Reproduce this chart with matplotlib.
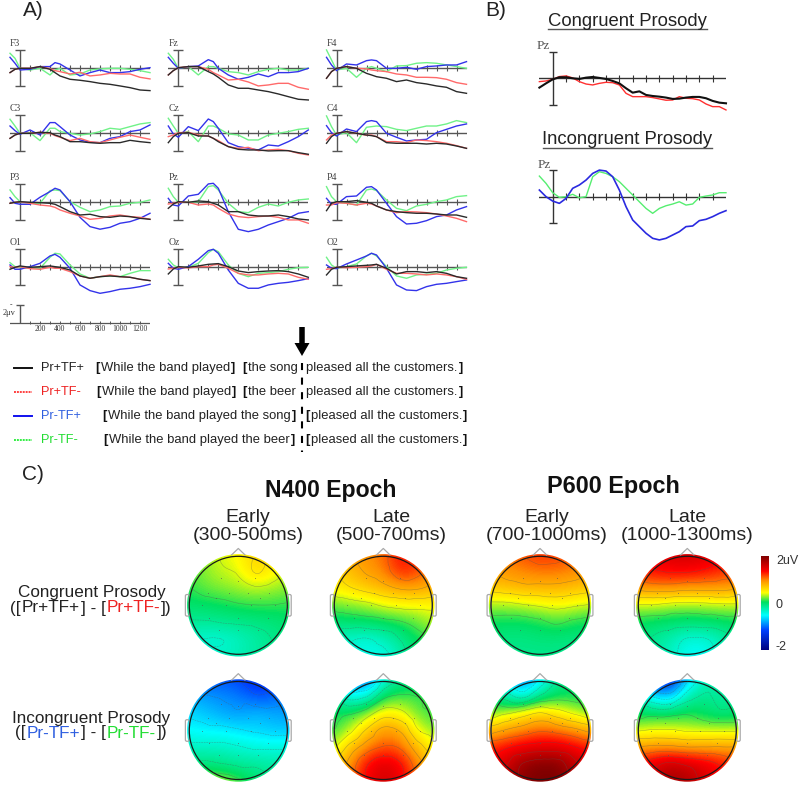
import matplotlib
matplotlib.use('Agg')
import matplotlib.pyplot as plt
import matplotlib.tri as mtri
from matplotlib.colors import LinearSegmentedColormap
from matplotlib.patches import Circle, FancyBboxPatch
import numpy as np

# ERP values in microvolts, negative is up in the plots
times = [-100, -50, 0, 100, 200, 300, 350, 400, 500, 600, 700, 800, 900, 1000, 1100, 1200, 1300]
times_pz = list(range(-100, 1301, 50))

F3 = [[.48,.11,0,0,-.19,.11,.48,.85,1.22,1.33,1.48,1.67,1.78,1.96,2.15,2.41,2.48],
      [.48,.11,0,0,-.19,.04,.26,.37,.63,.44,.85,.74,.56,.63,.63,1.0,1.18],
      [-1.22,-.56,.19,.11,-.19,-.19,-.63,-.48,.19,.85,.48,.19,.48,.48,.37,.11,-.07],
      [-1.67,-1.11,0,.19,0,.74,.19,0,.74,.63,.19,.07,0,0,.11,.26,.48]]
Fz = [[.74,.26,-.07,-.19,-.19,.37,.63,1.0,1.85,2.22,2.22,2.41,2.59,2.85,3.15,3.44,3.52],
      [.74,.26,-.07,-.19,-.19,.11,.48,.74,1.30,1.22,1.52,1.96,1.85,1.67,1.67,2.11,2.33],
      [-1.22,-.56,0,-.19,-.26,-.96,-.74,0,.74,1.22,1.0,.63,.93,.48,.48,.37,0],
      [-1.67,-1.0,0,-.19,.74,-.19,-.19,0,.37,.48,.74,.37,.11,0,.19,.19,0]]
F4 = [[1.11,.37,0,-.19,0,.56,.74,.93,1.11,1.48,1.30,1.59,1.74,1.96,2.11,2.59,2.78],
      [1.11,.37,0,-.19,0,.07,.19,.26,.37,.63,.74,1.0,1.0,1.04,1.22,1.59,1.78],
      [-1.22,-.37,.26,-.48,-.37,-.85,-.93,-.85,0,0,-.11,.11,-.19,-.26,-.37,-.37,-.74],
      [-2.04,-.93,.19,0,1.0,0,-.19,0,.37,-.26,-.30,-.56,-.63,-.56,-.37,-.19,0]]
C3 = [[.56,.19,0,0,-.11,-.07,.19,.37,.93,.93,1.04,1.11,1.04,1.04,.78,.93,1.04],
      [.56,.19,0,0,-.11,0,.26,.44,.81,.56,.93,1.04,.74,.44,.19,.44,.67],
      [-.81,-.30,.11,-.37,.19,-1.19,-1.19,-.74,.19,.74,1.0,1.04,.56,.37,-.19,-.37,-.93],
      [-1.56,-.81,0,-.07,.81,-.56,-.56,-.19,0,.19,.07,-.19,-.56,-.44,-.74,-1.04,-1.19]]
Cz = [[1.04,.37,0,-.07,.30,.30,.56,.93,1.48,1.78,1.85,1.85,1.96,1.93,1.93,2.15,2.33],
      [.37,.19,-.07,-.11,.19,.30,.56,.81,1.48,1.67,1.56,1.93,1.85,1.78,1.93,2.22,2.41],
      [-.81,.07,.44,-.74,-.30,-1.59,-1.30,-.56,1.04,1.48,1.67,1.85,1.30,1.41,.93,.37,-.37],
      [-1.67,-.81,0,-.19,.93,-.81,-.81,-.56,.07,.19,.74,.74,.19,0,-.19,-.44,-.56]]
C4 = [[1.11,.37,0,-.19,0,.19,.26,.37,1.04,1.11,1.11,1.11,1.19,1.11,1.19,1.41,1.67],
      [.74,.19,0,-.19,0,.22,.19,.37,.93,.93,1.04,.74,.81,.93,1.11,1.37,1.67],
      [-.85,-.07,.30,-.48,-.19,-1.30,-1.41,-1.30,0,.44,.85,.74,.67,-.07,-.44,-.81,-1.04],
      [-1.93,-.74,.19,-.07,1.04,-.67,-.74,-.81,-.74,-.44,-.30,-.56,-.81,-.81,-1.04,-1.41,-1.19]]
P3 = [[.11,0,-.07,0,.04,.11,.22,.48,1.04,1.41,1.33,1.59,1.67,1.52,1.59,1.78,1.89],
      [.11,0,-.07,.11,.30,.41,.56,.85,1.22,1.52,1.89,1.78,1.52,1.41,1.59,1.67,1.89],
      [-.52,.11,.22,.22,-.56,-1.19,-1.56,-1.37,-.07,1.67,2.70,2.99,2.78,2.33,2.15,1.78,1.22],
      [-1.37,-.63,-.07,.11,.11,-1.30,-1.37,-1.30,-.07,.56,1.04,.85,.48,.41,.11,0,-.26]]
Pz = [[.67,.19,-.07,0,-.15,-.07,.11,.30,1.04,1.04,1.41,1.52,1.52,1.41,1.59,1.85,1.96],
      [.19,.11,0,0,.30,.19,.30,.67,1.30,1.59,1.70,1.59,1.52,1.67,1.96,1.96,2.33],
      [-.44,.30,.41,-.70,-.89,-2.04,-2.11,-1.56,1.04,3.0,3.26,3.0,2.52,2.15,1.78,1.22,1.04],
      [-1.56,-.63,0,0,-.07,-1.74,-1.85,-1.37,.11,1.04,1.15,.56,.19,.41,0,-.26,-.37]]
P4 = [[.93,.11,-.07,-.07,-.19,0,.11,.41,.85,1.04,1.15,1.22,1.22,1.30,1.41,1.41,1.67],
      [.30,.30,.04,.11,.30,.11,.19,.41,.85,1.15,1.04,1.07,1.15,1.30,1.52,1.78,2.15],
      [-.44,.22,.22,-.63,-.70,-1.67,-1.74,-1.37,.11,1.59,2.41,2.33,2.04,1.59,1.41,.85,.48],
      [-1.74,-.63,-.07,.11,.30,-1.37,-1.48,-1.30,-.26,.67,.93,.41,.22,-.07,-.26,-.63,-.74]]
O1 = [[.22,0,-.15,0,-.07,-.15,-.07,0,.30,.96,1.22,1.04,.96,1.04,1.11,1.33,1.48],
      [-.07,0,-.07,.15,.22,0,.11,.11,.48,.96,1.22,1.04,.85,1.04,1.11,1.33,1.48],
      [-.26,.22,.22,-.07,-.44,-1.26,-1.44,-1.11,.11,1.96,2.59,2.89,2.70,2.44,2.33,2.15,1.89],
      [-.52,-.07,.04,.11,.11,-1.11,-1.56,-1.48,-.26,.74,1.22,1.04,.96,1.04,.67,.37,.37]]
Oz = [[.74,.19,-.07,0,-.15,-.33,-.37,-.41,-.07,.41,.59,.48,.41,.37,.48,.74,1.11],
      [.19,.11,0,.07,-.07,-.07,-.26,-.33,.11,.67,.85,.85,.74,.67,.74,1.11,1.33],
      [-.44,.11,.22,-.07,-.89,-1.85,-2.0,-1.56,.30,1.78,2.33,2.33,1.96,1.78,1.67,1.48,1.26],
      [-.89,-.26,.04,0,-.44,-1.63,-2.0,-1.74,-.26,.67,1.04,.67,.59,.48,.22,.04,0]]
O2 = [[.85,.22,0,-.07,-.15,-.22,-.26,-.33,.11,.74,.48,.48,.59,.48,.67,1.04,1.22],
      [.22,.15,0,.04,0,-.07,-.15,-.33,.22,.67,.67,.74,.85,.74,.85,1.04,1.33],
      [-.26,.11,.15,-.37,-.81,-1.26,-1.56,-1.37,.11,1.96,2.52,2.59,2.15,1.89,1.78,1.59,1.41],
      [-1.11,-.26,.11,-.07,-.37,-1.26,-1.56,-1.26,-.07,.96,1.22,.85,.78,.67,.30,.11,0]]

electrodes = [['F3', 'Fz', 'F4'], ['C3', 'Cz', 'C4'], ['P3', 'Pz', 'P4'], ['O1', 'Oz', 'O2']]
erp = {'F3': F3, 'Fz': Fz, 'F4': F4, 'C3': C3, 'Cz': Cz, 'C4': C4,
       'P3': P3, 'Pz': Pz, 'P4': P4, 'O1': O1, 'Oz': Oz, 'O2': O2}

pz_black = [.70,.38,.08,-.08,-.08,0,.05,-.05,-.10,-.03,.05,.20,.38,.75,1.08,.98,1.25,1.33,1.38,1.45,1.55,1.53,1.45,1.40,1.40,1.50,1.70,1.83,1.88]
pz_red = [.25,.20,.08,-.13,-.18,-.03,.25,.43,.50,.38,.30,.33,.50,1.13,1.38,1.38,1.38,1.45,1.55,1.65,1.63,1.38,1.50,1.53,1.63,1.93,2.13,2.13,2.38]
pz_blue = [-.5,0,.33,.5,.13,-.63,-.88,-1.25,-1.75,-2,-1.93,-1.5,-.5,.75,1.75,2.25,2.75,3.13,3.25,3.13,2.88,2.63,2.25,2.2,1.8,1.7,1.5,1.25,1.05]
pz_green = [-1.55,-1,-.3,.05,0,-.18,.08,0,-1.5,-1.88,-1.75,-1.5,-1.13,-.63,-.13,.38,.88,1.25,.88,.68,.55,.38,.63,.55,.05,-.05,-.13,-.3,-.3]

series_colors = ['#2a2a2a', '#ff6a6a', '#3333ea', '#70f288']
legend_names = ['Pr+TF+', 'Pr+TF-', 'Pr-TF+', 'Pr-TF-']
name_colors = ['#222222', '#ee2222', '#2f5fe0', '#22dd33']
calib_ticks = [200, 400, 600, 800, 1000, 1200]

# scalp maps: 7x7 grids of microvolts, front row first, left to right
map_early_con = [[.15,.25,.4,.45,.65,.55,.4],[.15,.25,.35,.4,.65,.5,.35],[.1,.2,.25,.3,.35,.3,.25],[0,.02,.05,.1,.12,.12,.1],
                 [-.15,-.15,-.12,-.1,-.08,-.05,0],[-.3,-.38,-.38,-.3,-.2,-.12,-.05],[-.2,-.35,-.3,-.25,-.18,-.1,-.05]]
map_late_con = [[.75,.85,.95,1.05,1.35,1.2,1],[.6,.75,.9,1.0,1.3,1.2,.95],[.5,.6,.7,.8,.9,.9,.8],[.2,.25,.3,.4,.45,.45,.45],
                [-.02,0,.02,.05,.1,.2,.35],[-.3,-.35,-.4,-.3,-.12,.05,.15],[-.25,-.4,-.45,-.45,-.25,0,.1]]
map_p6e_con = [[1.0,1.05,1.15,1.25,1.2,1.1,1],[.85,.95,1.0,1.05,1.05,1,.9],[.7,.75,.8,.8,.8,.75,.7],[.3,.3,.35,.4,.45,.4,.35],
               [.05,.03,.03,.08,.15,.08,.03],[-.05,-.08,-.08,-.05,-.05,-.08,-.05],[-.08,-.12,-.12,-.12,-.12,-.12,-.08]]
map_p6l_con = [[1.45,1.5,1.55,1.6,1.55,1.45,1.35],[1.3,1.35,1.4,1.4,1.35,1.25,1.2],[.95,1,1,.95,.95,.95,.9],[.35,.35,.3,.28,.3,.33,.33],
               [.05,.02,0,-.02,0,.02,.05],[-.05,-.15,-.25,-.4,-.4,-.25,-.1],[-.05,-.15,-.3,-.5,-.5,-.3,-.15]]
map_early_inc = [[-1.0,-1.1,-1.1,-1.15,-1.3,-1.3,-1.15],[-.75,-.85,-.9,-.95,-1.1,-1.05,-.95],[-.65,-.7,-.8,-.85,-.75,-.8,-.85],[-.5,-.55,-.55,-.6,-.65,-.7,-.7],
                 [-.3,-.3,-.3,-.35,-.4,-.4,-.4],[-.05,-.05,-.1,-.15,-.15,-.2,-.2],[.2,.35,.35,.2,0,-.1,-.1]]
map_late_inc = [[-.5,-.95,-1.1,-.4,-.15,-.05,.05],[-.1,-.5,-.4,.05,.15,.12,.08],[.05,.1,.25,.5,.45,.2,.12],[.1,.3,.65,.95,.85,.4,.25],
                [.3,.7,1.0,1.15,1.1,.75,.45],[.55,.95,1.35,1.55,1.4,1.0,.65],[.65,1.0,1.4,1.6,1.45,1.05,.65]]
map_p6e_inc = [[-.25,-.7,-1.05,-.6,-.15,-.05,0],[0,-.25,-.45,-.1,.05,.05,.02],[.2,.35,.5,.65,.5,.35,.2],[.75,.9,1.0,1.1,1.05,.95,.8],
               [1.25,1.35,1.45,1.5,1.5,1.4,1.3],[1.4,1.6,1.9,2,2,1.7,1.45],[1.4,1.65,1.95,2,2,1.75,1.45]]
map_p6l_inc = [[-.6,-1.3,-1.45,-.7,-.3,-.2,-.1],[-.25,-.65,-.75,-.25,-.1,-.2,-.15],[.02,.05,.05,.1,0,-.08,-.02],[.35,.4,.4,.35,.35,.35,.35],
               [.9,.95,.95,.9,.9,.9,.9],[1.35,1.55,1.7,1.6,1.5,1.35,1.2],[1.3,1.55,1.8,1.75,1.55,1.35,1.25]]
scalp_maps = [[map_early_con, map_late_con, map_p6e_con, map_p6l_con],
              [map_early_inc, map_late_inc, map_p6e_inc, map_p6l_inc]]
sensor_x = [-.35, .35, 0, -.62, -.2, .2, .62, -.75, -.25, .25, .75, -.6, 0, .6, -.4, 0, .4, -.45, .45]
sensor_y = [.55, .55, .5, .25, .25, .25, .25, 0, 0, 0, 0, -.25, -.25, -.25, -.5, -.5, -.5, .15, .15]

W, H = 800, 786
sans = 'Liberation Sans'
serif = 'Liberation Serif'

# colour scale as seen on the bar in the reference
scalp_cmap = LinearSegmentedColormap.from_list('scalp', [
    (0.0, '#00007f'), (0.21, '#0040ff'), (0.37, '#00ffff'), (0.51, '#00e060'),
    (0.61, '#ffff00'), (0.74, '#ff9000'), (0.84, '#ff0000'), (1.0, '#7f0000')])

fig = plt.figure(figsize=(W / 100, H / 100), dpi=100)
# overlay in pixel units for the text, legend and arrow
ov = fig.add_axes([0, 0, 1, 1])
ov.set_xlim(0, W)
ov.set_ylim(H, 0)
ov.axis('off')


def panel(x0, base, px_per_uv, px_per_100ms=10.0):
    half = 2.5 * px_per_uv
    left = x0 - px_per_100ms
    width = 14 * px_per_100ms
    ax = fig.add_axes([left / W, 1 - (base + half) / H, width / W, 2 * half / H])
    ax.set_xlim(-100, 1300)
    ax.set_ylim(2.5, -2.5)
    ax.axis('off')
    ax.patch.set_alpha(0)
    return ax


def draw_axes(ax, tick_uv, cap=100, color='#555555', lw=1.0):
    ax.axhline(0, color=color, lw=lw, zorder=1)
    ax.vlines(np.arange(100, 1201, 100), -tick_uv, tick_uv, color=color, lw=0.8, zorder=1)
    ax.vlines(0, -2, 2, color=color, lw=lw, zorder=1)
    ax.hlines([-2, 2], -cap / 2, cap / 2, color=color, lw=lw, zorder=1)


def chain_text(xc, y, parts, size):
    # coloured pieces on one line, centred on xc
    r = fig.canvas.get_renderer()
    pieces = [ov.text(0, y, s, color=c, fontsize=size, family=sans, ha='left', va='center') for s, c in parts]
    widths = [p.get_window_extent(r).width + 1.0 for p in pieces]
    x = xc - sum(widths) / 2
    for p, w in zip(pieces, widths):
        p.set_x(x)
        x += w


def sentence(x, y, s):
    # the brackets are heavier than the words in the original
    r = fig.canvas.get_renderer()
    if s.startswith('['):
        t = ov.text(x, y, '[', color='#111111', fontsize=9.4, family=sans, fontweight='bold', ha='left', va='center')
        x += t.get_window_extent(r).width + 1.2
        s = s[1:]
    closing = s.endswith(']')
    if closing:
        s = s[:-1]
    t = ov.text(x, y, s, color='#222222', fontsize=9.4, family=sans, ha='left', va='center')
    if closing:
        x += t.get_window_extent(r).width + 1.2
        ov.text(x, y, ']', color='#111111', fontsize=9.4, family=sans, fontweight='bold', ha='left', va='center')


# A) grid of electrodes
cols_x = [20, 178.3, 336.5]
rows_y = [68.3, 133.3, 202.3, 267.3]
for r, row in enumerate(electrodes):
    for c, name in enumerate(row):
        ax = panel(cols_x[c], rows_y[r], 9.0)
        draw_axes(ax, 0.33)
        for i in [3, 2, 1, 0]:
            ax.plot(times, erp[name][i], color=series_colors[i], lw=1.0, clip_on=False, zorder=2 + (i < 2) + (i == 0))
        ov.text(cols_x[c] - 10, rows_y[r] - 24.5, name, family=serif, fontsize=7, color='#444444', ha='left', va='center')

# time calibration
ax = panel(20, 322.7, 9.0)
ax.axhline(0, color='#555555', lw=0.9)
ax.vlines(np.arange(100, 1301, 100), -0.15, 0.15, color='#555555', lw=0.7)
ax.vlines(0, -2, 0, color='#555555', lw=1.0)
ax.hlines(-2, -40, 40, color='#555555', lw=1.0)
for t in calib_ticks:
    ax.text(t, 0.72, str(t), family=serif, fontsize=5.5, color='#333333', ha='center', va='center')
ov.text(11, 305, '-', family=serif, fontsize=5.5, color='#333333', ha='center', va='center')
ov.text(3, 313, '2μv', family=serif, fontsize=6, color='#333333', ha='left', va='center')

# B) Pz close up
ax = panel(552.7, 78.3, 13.3, 13.33)
draw_axes(ax, 0.25, cap=60, color='#333333')
ax.plot(times_pz, pz_red, color='#ff3030', lw=1.0, clip_on=False)
ax.plot(times_pz, pz_black, color='#111111', lw=1.5, clip_on=False)
ov.text(537, 46, 'Pz', family=serif, fontsize=9.5, color='#555555', ha='left', va='center')

ax = panel(552.7, 196.7, 13.3, 13.33)
draw_axes(ax, 0.25, cap=60, color='#333333')
ax.plot(times_pz, pz_green, color='#55ee70', lw=1.0, clip_on=False)
ax.plot(times_pz, pz_blue, color='#2a2ae0', lw=1.2, clip_on=False)
ov.text(538, 165, 'Pz', family=serif, fontsize=9.5, color='#555555', ha='left', va='center')

ov.text(627.5, 21, 'Congruent Prosody', family=sans, fontsize=13.3, color='#222222', ha='center', va='center')
ov.plot([548, 707], [29, 29], color='#555555', lw=1.0)
ov.text(627.5, 140, 'Incongruent Prosody', family=sans, fontsize=13.3, color='#222222', ha='center', va='center')
ov.plot([543, 712], [147.5, 147.5], color='#555555', lw=1.0)

# panel letters
ov.text(23, 11, 'A)', family=sans, fontsize=15, color='#222222', ha='left', va='center')
ov.text(485, 11, 'B)', family=sans, fontsize=15, color='#222222', ha='left', va='center')
ov.text(22, 475, 'C)', family=sans, fontsize=15, color='#222222', ha='left', va='center')

# sentence legend
leg_y = [368, 392, 416, 440]
sentence_a = ['[While the band played]', '[While the band played]', '[While the band played the song]', '[While the band played the beer]']
sentence_a_x = [95, 96, 102, 103]
sentence_b = ['[the song', '[the beer', '', '']
sentence_c = ['pleased all the customers.]', 'pleased all the customers.]', '[pleased all the customers.]', '[pleased all the customers.]']
sentence_c_x = [306, 306, 305, 305]
leg_line = ['#111111', '#ff4040', '#1111ee', '#33ee44']
for i, y in enumerate(leg_y):
    ov.plot([14, 32], [y, y], color=leg_line[i], lw=1.4, ls='-' if i in (0, 2) else (0, (1, 0.5)))
    ov.text(41, y, legend_names[i], color=name_colors[i], fontsize=9.2, family=sans, ha='left', va='center')
    sentence(sentence_a_x[i], y, sentence_a[i])
    if sentence_b[i]:
        sentence(242.5, y, sentence_b[i])
    sentence(sentence_c_x[i], y, sentence_c[i])
ov.plot([302, 302], [363, 452], color='black', lw=1.5, ls=(0, (3.4, 3.6)))
ov.arrow(302, 327, 0, 29, width=5.5, head_width=15, head_length=13, length_includes_head=True, color='black', lw=0)

# C) headings
ov.text(331, 491, 'N400 Epoch', family=sans, fontweight='bold', fontsize=16.6, color='#111111', ha='center', va='center')
ov.text(613, 487, 'P600 Epoch', family=sans, fontweight='bold', fontsize=16.8, color='#111111', ha='center', va='center')
head_x = [238.3, 383.3, 540.0, 687.3]
head_y = [605.3, 730.5]
epoch_x = [248, 391, 547, 687]
epoch_top = ['Early', 'Late', 'Early', 'Late']
epoch_ms = ['(300-500ms)', '(500-700ms)', '(700-1000ms)', '(1000-1300ms)']
for x, a, b in zip(epoch_x, epoch_top, epoch_ms):
    ov.text(x, 518, a, family=sans, fontsize=14, color='#222222', ha='center', va='center')
    ov.text(x, 535, b, family=sans, fontsize=14, color='#222222', ha='center', va='center')

ov.text(91.5, 592, 'Congruent Prosody', family=sans, fontsize=12.3, color='#222222', ha='center', va='center')
chain_text(91.5, 608, [('([', '#222222'), ('Pr+TF+', '#222222'), ('] - [', '#222222'), ('Pr+TF-', '#ee2222'), ('])', '#222222')], 12.3)
ov.text(91.5, 718, 'Incongruent Prosody', family=sans, fontsize=12.3, color='#222222', ha='center', va='center')
chain_text(91.5, 733, [('([', '#222222'), ('Pr-TF+', '#2f5fe0'), ('] - [', '#222222'), ('Pr-TF-', '#22dd33'), ('])', '#222222')], 12.3)

# scalp maps
grid_x, grid_y = np.meshgrid(np.linspace(-1.05, 1.05, 7), np.linspace(1.05, -1.05, 7))
tri = mtri.Triangulation(grid_x.ravel(), grid_y.ravel())
refiner = mtri.UniformTriRefiner(tri)
line_levels = np.arange(-1.875, 2, 0.25)
unit_px = 49.0
span = 1.3
for r, row in enumerate(scalp_maps):
    for c, grid in enumerate(row):
        size = 2 * span * unit_px
        ax = fig.add_axes([(head_x[c] - size / 2) / W, 1 - (head_y[r] + size / 2) / H, size / W, size / H])
        z = np.array(grid, dtype=float)
        im = ax.imshow(z, extent=[-1.225, 1.225, -1.225, 1.225], cmap=scalp_cmap, vmin=-2, vmax=2, interpolation='bicubic')
        im.set_clip_path(Circle((0, 0), 1.045, transform=ax.transData))
        interp = mtri.CubicTriInterpolator(tri, z.ravel(), kind='geom')
        fine_tri, fine_z = refiner.refine_field(z.ravel(), triinterpolator=interp, subdiv=3)
        lines = ax.tricontour(fine_tri, fine_z, levels=line_levels, colors='#555555', linewidths=0.35, alpha=0.5)
        lines.set_clip_path(Circle((0, 0), 1.0, transform=ax.transData))
        ax.plot(sensor_x, sensor_y, ls='none', marker='o', ms=0.6, mew=0, color='#555555', alpha=0.7)
        ax.add_patch(Circle((0, 0), 1.0, fill=False, ec='#1a1a1a', lw=0.9))
        ax.plot([-.135, 0, .135], [1.03, 1.16, 1.03], color='#aaaaaa', lw=0.9)
        for side in (-1, 1):
            x_left = 1.0 if side == 1 else -1.08
            ax.add_patch(FancyBboxPatch((x_left, -.22), .08, .44, boxstyle='round,pad=0,rounding_size=0.03',
                                        fill=False, ec='#aaaaaa', lw=0.9, zorder=0))
        ax.set_xlim(-span, span)
        ax.set_ylim(-span, span)
        ax.axis('off')
        ax.patch.set_alpha(0)

# colour bar
cax = fig.add_axes([761 / W, 1 - 650 / H, 7.5 / W, 94 / H])
cax.imshow(np.linspace(2, -2, 256).reshape(-1, 1), aspect='auto', cmap=scalp_cmap, vmin=-2, vmax=2, extent=[0, 1, -2, 2])
cax.axis('off')
ov.text(776, 561, '2uV', family=sans, fontsize=9, color='#333333', ha='left', va='center')
ov.text(776, 605, '0', family=sans, fontsize=9, color='#333333', ha='left', va='center')
ov.text(775, 647, '-2', family=sans, fontsize=9, color='#333333', ha='left', va='center')

fig.savefig('out.png', dpi=100)
